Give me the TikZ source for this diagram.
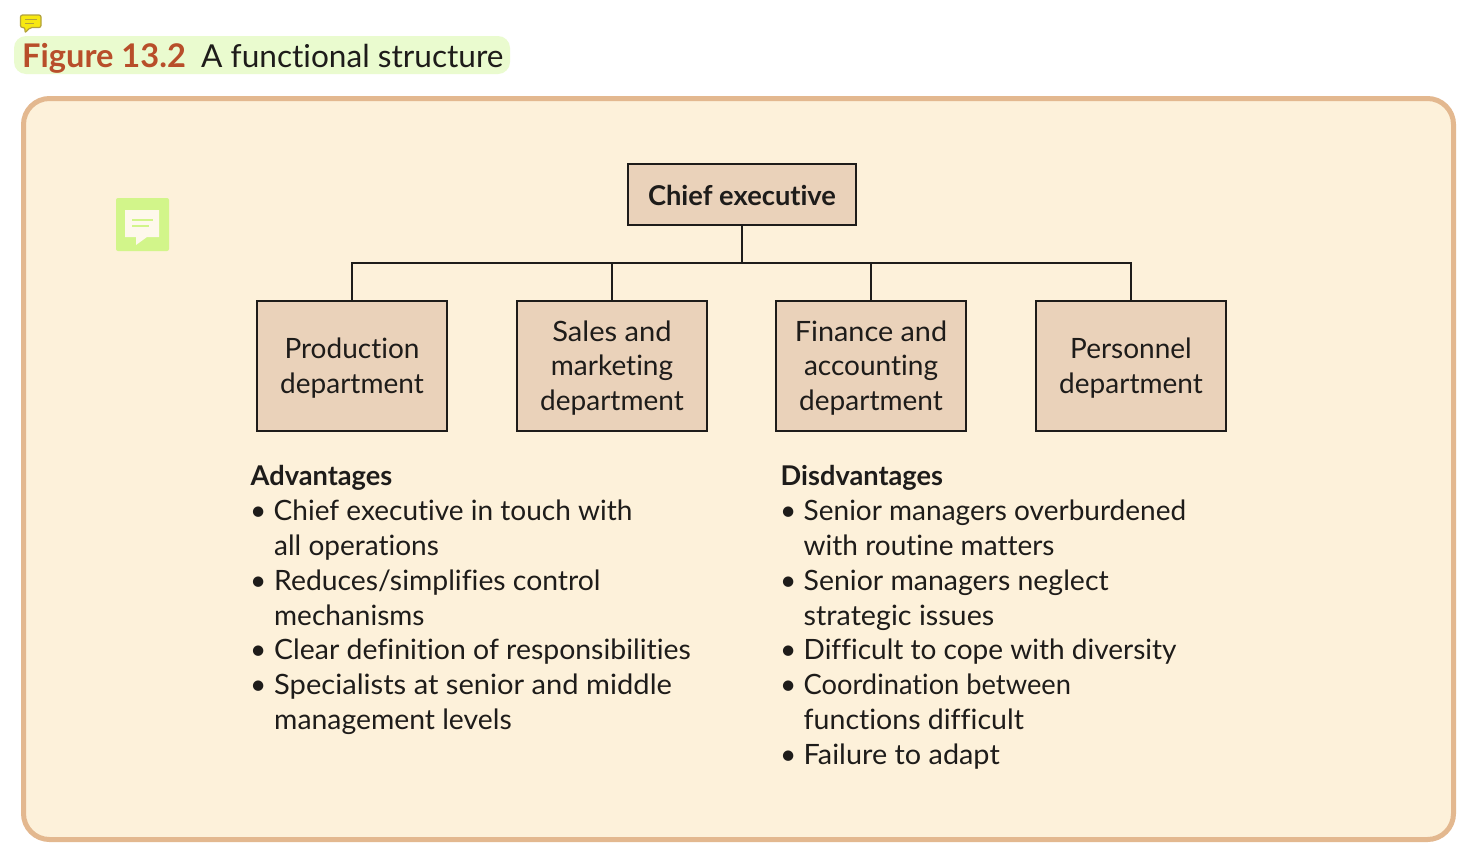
\documentclass[tikz,border=0pt]{standalone}
\usepackage{fontspec}
\setmainfont[Ligatures=NoCommon]{Lato}
\definecolor{panelfill}{HTML}{FDF1DA}
\definecolor{panelline}{HTML}{E3B88F}
\definecolor{boxfill}{HTML}{EAD2BA}
\definecolor{inkc}{HTML}{1E1C1A}
\definecolor{figred}{HTML}{B84E2A}
\definecolor{hilite}{HTML}{EAFBCF}
\definecolor{notegreen}{HTML}{D2F58A}
\definecolor{notepaper}{HTML}{FEF8EC}
\definecolor{noteyellow}{HTML}{F7E810}
\definecolor{noteedge}{HTML}{B3A23C}
\newcommand\fitx[2]{\scalebox{#1}[1]{#2}}
\newcommand\lowbox[1]{\raisebox{0pt}[\dimexpr\height+6pt\relax][\depth]{\begin{tabular}{@{}c@{}}#1\end{tabular}}}
\tikzset{
  x=1pt,y=-1pt,
  orgbox/.style={draw=inkc,line width=1.8pt,fill=boxfill,text=inkc,align=center,inner sep=0pt,font=\fontsize{28}{34.8}\selectfont},
  deptbox/.style={orgbox,minimum width=190pt,minimum height=130pt},
  link/.style={draw=inkc,line width=1.8pt},
  listline/.style={anchor=base west,inner sep=0pt,text=inkc,font=\fontsize{28}{34.8}\selectfont},
  listhead/.style={listline,font=\fontsize{27.2}{34.8}\selectfont\bfseries},
}
\begin{document}
\begin{tikzpicture}
\useasboundingbox (0,0) rectangle (1474,860);
\fill[white] (0,0) rectangle (1474,860);
% caption
\fill[hilite,rounded corners=12pt] (14,36) rectangle (510,74);
\node[anchor=base west,inner sep=0pt,text=figred,font=\fontsize{32.6}{36}\selectfont\bfseries] (figlabel) at (22,67) {Figure 13.2};
\node[anchor=base west,inner sep=0pt,text=inkc,font=\fontsize{31.6}{36}\selectfont] (figtitle) at (201,67) {A functional structure};
% yellow note icon
\draw[fill=noteyellow,draw=noteedge,line width=1.2pt,rounded corners=2pt] (20.5,15) -- (41,15) -- (41,27.5) -- (30,27.5) -- (25,33) -- (25,27.5) -- (20.5,27.5) -- cycle;
\draw[noteedge,line width=1pt] (25,19) -- (37,19) (25,23) -- (34,23);
% panel
\draw[fill=panelfill,draw=panelline,line width=5pt,rounded corners=26pt] (23.5,98.5) rectangle (1453.5,839.5);
% green note icon
\fill[notegreen,rounded corners=2pt] (116,198) rectangle (169,251);
\fill[notepaper] (125,210) -- (159,210) -- (159,237) -- (147,237) -- (136,245) -- (136,237) -- (125,237) -- cycle;
\draw[notegreen,line width=1.6pt] (132,220) -- (153,220) (132,226) -- (149,226);
% org chart
\node[orgbox,minimum width=228pt,minimum height=61pt,font=\fontsize{27.3}{34.8}\selectfont\bfseries] (ceo) at (742,194.5) {\raisebox{0pt}[\dimexpr\height+2pt\relax][\depth]{Chief executive}};
\node[deptbox] (prod) at (352,366) {\lowbox{Production\\department}};
\node[deptbox] (sales) at (612,366) {\lowbox{\fitx{1.04}{Sales and}\\marketing\\department}};
\node[deptbox] (fin) at (871,366) {\lowbox{\fitx{1.03}{Finance and}\\accounting\\department}};
\node[deptbox] (pers) at (1131,366) {\lowbox{Personnel\\department}};
\coordinate (bus) at (742,263);
\draw[link] (ceo.south) -- (bus);
\draw[link] (prod.north) |- (bus);
\draw[link] (sales.north) |- (bus);
\draw[link] (fin.north) |- (bus);
\draw[link] (pers.north) |- (bus);
% advantages
\node[listhead] (advh) at (250.5,485) {Advantages};
\node[listline] (a1b) at (250,520) {•};
\node[listline] (a1) at (273.5,520) {Chief executive in touch with};
\node[listline] (a1c) at (274,555) {all operations};
\node[listline] (a2b) at (250,590) {•};
\node[listline] (a2) at (274,590) {\fitx{1.012}{Reduces/simplifies control}};
\node[listline] (a2c) at (274,625) {mechanisms};
\node[listline] (a3b) at (250,659) {•};
\node[listline] (a3) at (274,659) {\fitx{1.015}{Clear definition of responsibilities}};
\node[listline] (a4b) at (250,694) {•};
\node[listline] (a4) at (274,694) {\fitx{1.04}{Specialists at senior and middle}};
\node[listline] (a4c) at (274,729) {\fitx{1.012}{management levels}};
% disadvantages
\node[listhead] (dish) at (780.5,485) {Disdvantages};
\node[listline] (d1b) at (780,520) {•};
\node[listline] (d1) at (803.5,520) {Senior managers overburdened};
\node[listline] (d1c) at (803.5,555) {with routine matters};
\node[listline] (d2b) at (780,590) {•};
\node[listline] (d2) at (803.5,590) {\fitx{1.016}{Senior managers neglect}};
\node[listline] (d2c) at (803.5,625) {\fitx{1.025}{strategic issues}};
\node[listline] (d3b) at (780,659) {•};
\node[listline] (d3) at (803.5,659) {Difficult to cope with diversity};
\node[listline] (d4b) at (780,694) {•};
\node[listline] (d4) at (803.5,694) {\fitx{0.974}{Coordination between}};
\node[listline] (d4c) at (803.5,729) {\fitx{1.018}{functions difficult}};
\node[listline] (d5b) at (780,764) {•};
\node[listline] (d5) at (803.5,764) {\fitx{1.03}{Failure to adapt}};
\end{tikzpicture}
\end{document}
